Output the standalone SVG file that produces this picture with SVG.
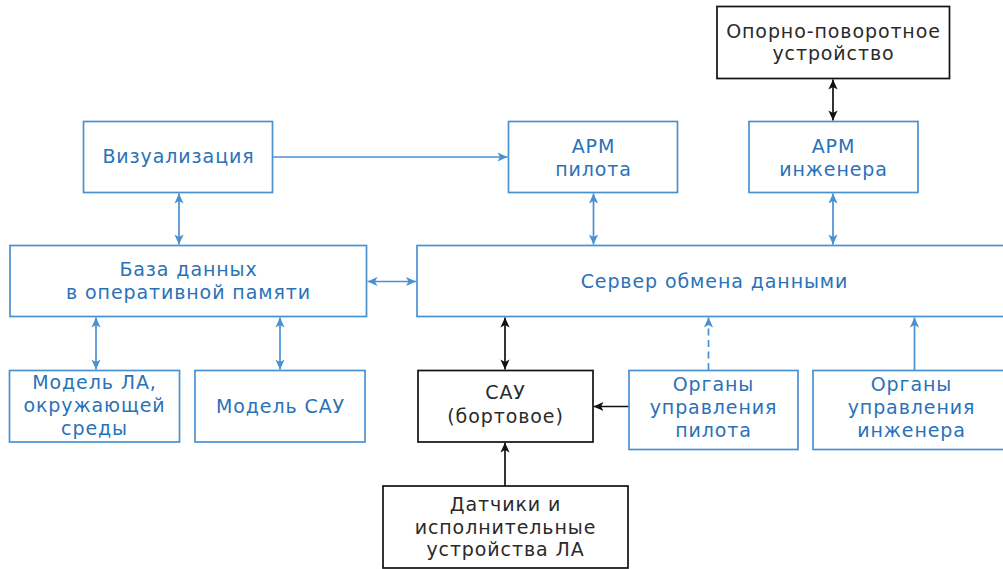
<svg xmlns="http://www.w3.org/2000/svg" width="1003" height="569" viewBox="0 0 1003 569">
<style>
.b{fill:#fff;stroke:#4a91d2;stroke-width:1.7}
.k{fill:#fff;stroke:#111;stroke-width:1.7}
text{font-family:"DejaVu Sans","Liberation Sans",sans-serif;font-size:19px;letter-spacing:0.9px;text-anchor:middle}
.tb{fill:#2a72b8}
.tk{fill:#2a2a2a}
.cb{stroke:#4a91d2;stroke-width:1.7;fill:none}
.ck{stroke:#111;stroke-width:1.7;fill:none}
</style>
<defs>
<marker id="ab" viewBox="-11 -6 12 12" refX="0" refY="0" markerWidth="12" markerHeight="12" markerUnits="userSpaceOnUse" orient="auto-start-reverse">
<path d="M0,0 L-10,-4.6 L-7.5,0 L-10,4.6 Z" fill="#4a91d2"/>
</marker>
<marker id="ak" viewBox="-11 -6 12 12" refX="0" refY="0" markerWidth="12" markerHeight="12" markerUnits="userSpaceOnUse" orient="auto-start-reverse">
<path d="M0,0 L-10,-4.6 L-7.5,0 L-10,4.6 Z" fill="#111"/>
</marker>
</defs>
<g id="connectors">
<line class="cb" x1="273" y1="157" x2="507.5" y2="157" marker-end="url(#ab)"/>
<line class="cb" x1="179" y1="193.5" x2="179" y2="244.5" marker-start="url(#ab)" marker-end="url(#ab)"/>
<line class="cb" x1="367.5" y1="281.5" x2="416" y2="281.5" marker-start="url(#ab)" marker-end="url(#ab)"/>
<line class="cb" x1="593.5" y1="193.5" x2="593.5" y2="244.5" marker-start="url(#ab)" marker-end="url(#ab)"/>
<line class="cb" x1="833" y1="193.5" x2="833" y2="244.5" marker-start="url(#ab)" marker-end="url(#ab)"/>
<line class="ck" x1="833" y1="79.5" x2="833" y2="120.5" marker-start="url(#ak)" marker-end="url(#ak)"/>
<line class="cb" x1="96" y1="317.5" x2="96" y2="369.5" marker-start="url(#ab)" marker-end="url(#ab)"/>
<line class="cb" x1="280" y1="317.5" x2="280" y2="369.5" marker-start="url(#ab)" marker-end="url(#ab)"/>
<line class="ck" x1="505" y1="317.5" x2="505" y2="369.5" marker-start="url(#ak)" marker-end="url(#ak)"/>
<line class="cb" x1="708.5" y1="370" x2="708.5" y2="317.5" stroke-dasharray="7,4.5" marker-end="url(#ab)"/>
<line class="cb" x1="914.5" y1="370" x2="914.5" y2="317.5" marker-end="url(#ab)"/>
<line class="ck" x1="629" y1="406.5" x2="593.5" y2="406.5" marker-end="url(#ak)"/>
<line class="ck" x1="505" y1="486" x2="505" y2="442.5" marker-end="url(#ak)"/>
</g>
<g id="vis"><rect class="b" x="83.5" y="121.5" width="189" height="71"/><text class="tb" x="178.5" y="163">Визуализация</text></g>
<g id="arm-pilot"><rect class="b" x="508.5" y="121.5" width="169" height="71"/><text class="tb" x="593.5" y="153">АРМ</text><text class="tb" x="593.5" y="176">пилота</text></g>
<g id="arm-eng"><rect class="b" x="749" y="121.5" width="169" height="71"/><text class="tb" x="833.5" y="153">АРМ</text><text class="tb" x="833.5" y="176">инженера</text></g>
<g id="opu"><rect class="k" x="717" y="6.5" width="232.5" height="72"/><text class="tk" x="833.5" y="38">Опорно-поворотное</text><text class="tk" x="833.5" y="60">устройство</text></g>
<g id="db"><rect class="b" x="10" y="245.5" width="356.5" height="71"/><text class="tb" x="188.5" y="276">База данных</text><text class="tb" x="188.5" y="299">в оперативной памяти</text></g>
<g id="server"><rect class="b" x="417" y="245.5" width="600" height="71"/><text class="tb" x="714.5" y="288">Сервер обмена данными</text></g>
<g id="model-la"><rect class="b" x="9.5" y="370.5" width="170" height="71.5"/><text class="tb" x="94.5" y="389">Модель ЛА,</text><text class="tb" x="94.5" y="412">окружающей</text><text class="tb" x="94.5" y="435">среды</text></g>
<g id="model-sau"><rect class="b" x="195" y="370.5" width="170" height="71.5"/><text class="tb" x="280.5" y="413">Модель САУ</text></g>
<g id="sau"><rect class="k" x="418" y="370.5" width="175" height="71.5"/><text class="tk" x="505.5" y="399">САУ</text><text class="tk" x="505.5" y="423">(бортовое)</text></g>
<g id="org-pilot"><rect class="b" x="629" y="370.5" width="169" height="79"/><text class="tb" x="713.5" y="391">Органы</text><text class="tb" x="713.5" y="414">управления</text><text class="tb" x="713.5" y="437">пилота</text></g>
<g id="org-eng"><rect class="b" x="813" y="370.5" width="200" height="79"/><text class="tb" x="911.5" y="391">Органы</text><text class="tb" x="911.5" y="414">управления</text><text class="tb" x="911.5" y="437">инженера</text></g>
<g id="sensors"><rect class="k" x="383" y="486" width="245" height="82"/><text class="tk" x="505.5" y="511">Датчики и</text><text class="tk" x="505.5" y="534">исполнительные</text><text class="tk" x="505.5" y="556">устройства ЛА</text></g>
</svg>
